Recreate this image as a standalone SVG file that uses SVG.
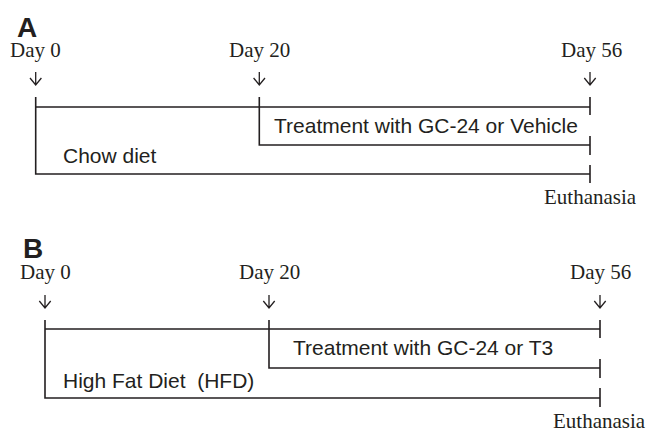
<svg xmlns="http://www.w3.org/2000/svg" width="649" height="430" viewBox="0 0 649 430">
<style>
.ser{font-family:"Liberation Serif","Times New Roman",serif;font-size:21px;fill:#231f20}
.san{font-family:"Liberation Sans",Arial,sans-serif;font-size:21px;fill:#231f20;white-space:pre}
.lbl{font-family:"Liberation Sans",Arial,sans-serif;font-size:28px;font-weight:bold;fill:#231f20}
.ln{stroke:#231f20;stroke-width:1.6;fill:none}
.ar{stroke:#231f20;stroke-width:1.3;fill:none}
</style>
<rect width="649" height="430" fill="#fff"/>
<g id="panelA">
<text class="lbl" x="17" y="37">A</text>
<g id="A-day0"><text class="ser" x="10" y="57">Day 0</text><path class="ar" d="M35.7 72V85M30 78l5.7 7 5.7-7"/></g>
<g id="A-day20"><text class="ser" x="229" y="57">Day 20</text><path class="ar" d="M259.3 72V85M253.6 78l5.7 7 5.7-7"/></g>
<g id="A-day56"><text class="ser" x="561" y="57">Day 56</text><path class="ar" d="M590 72V85M584.3 78l5.7 7 5.7-7"/></g>
<g id="A-treat"><text class="san" x="274" y="133">Treatment with GC-24 or Vehicle</text></g>
<g id="A-diet"><text class="san" x="63" y="163">Chow diet</text></g>
<g id="A-euth"><text class="ser" x="544" y="204">Euthanasia</text></g>
</g>
<g id="panelB">
<text class="lbl" x="23" y="258">B</text>
<g id="B-day0"><text class="ser" x="20" y="279">Day 0</text><path class="ar" d="M45 295V308M39.3 301l5.7 7 5.7-7"/></g>
<g id="B-day20"><text class="ser" x="239" y="279">Day 20</text><path class="ar" d="M269 295V308M263.3 301l5.7 7 5.7-7"/></g>
<g id="B-day56"><text class="ser" x="570" y="279">Day 56</text><path class="ar" d="M600 295V308M594.3 301l5.7 7 5.7-7"/></g>
<g id="B-treat"><text class="san" x="293" y="355">Treatment with GC-24 or T3</text></g>
<g id="B-diet"><text class="san" x="63" y="388">High Fat Diet  (HFD)</text></g>
<g id="B-euth"><text class="ser" x="553" y="428">Euthanasia</text></g>
</g>
<g id="connectors">
<path class="ln" d="M35.7 97V174H590M35.7 107H590M259.3 97V145H590M590 97V115M590 136V155M590 165V183"/>
<path class="ln" d="M45 320V398H600M45 329H600M269 320V368H600M600 320V338M600 359V378M600 388V407"/>
</g>
</svg>
